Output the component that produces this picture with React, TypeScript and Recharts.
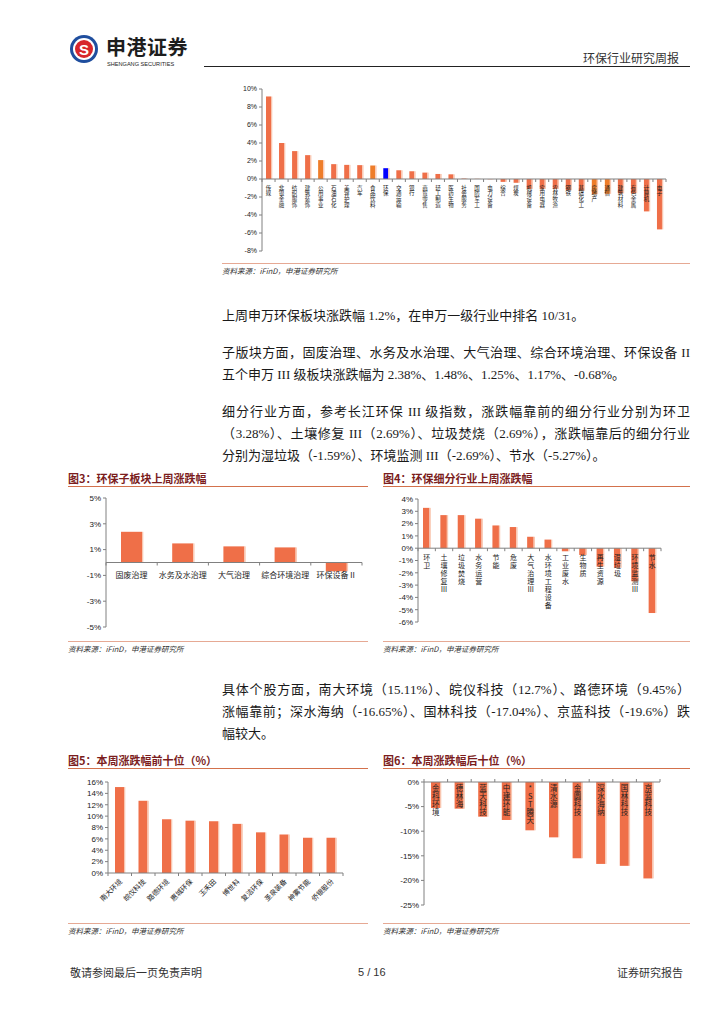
import React from "react";
import { Bar, BarChart, Cell, ReferenceLine, XAxis, YAxis } from "recharts";

// 申万一级行业上周涨跌幅（%）
const INDUSTRIES = [
  "传媒", "非银金融", "纺织服饰", "建筑装饰", "公用事业", "石油石化", "美容护理", "汽车",
  "食品饮料", "环保", "交通运输", "银行", "商贸零售", "轻工制造", "医药生物", "社会服务",
  "国防军工", "电力设备", "综合", "煤炭", "机械设备", "家用电器", "农林牧渔", "钢铁",
  "基础化工", "房地产", "通信", "建筑材料", "有色金属", "计算机", "电子",
];
const INDUSTRY_CHG = [
  9.17, 4.0, 3.1, 2.65, 2.1, 1.65, 1.57, 1.54, 1.5, 1.2, 0.97, 0.86, 0.71, 0.56, 0.52, 0.05,
  0.02, -0.03, -0.32, -0.42, -1.1, -1.1, -1.1, -1.25, -1.3, -1.7, -1.65, -1.6, -1.6, -3.6, -5.6,
];
const INDUSTRY_TICKS = [10, 8, 6, 4, 2, 0, -2, -4, -6, -8];
const ORANGE_SET = ["公用事业", "食品饮料", "房地产", "通信"];
const BLUE_SET = ["环保"];

// 图3 环保子板块
const SUB_SECTORS = ["固废治理", "水务及水治理", "大气治理", "综合环境治理", "环保设备Ⅱ"];
const SUB_SECTOR_CHG = [2.38, 1.48, 1.25, 1.17, -0.68];
const SUB_TICKS = [5, 3, 1, -1, -3, -5];

// 图4 环保细分行业
const SEGMENTS = [
  "环卫", "土壤修复Ⅲ", "垃圾焚烧", "水务运营", "节能", "危废", "大气治理Ⅲ",
  "水环境工程设备", "工业废水", "生物质", "再生资源", "湿垃圾", "环境监测Ⅲ", "节水",
];
const SEGMENT_CHG = [3.28, 2.69, 2.69, 2.4, 1.85, 1.72, 0.93, 0.7, -0.25, -0.55, -1.5, -1.59, -2.69, -5.27];
const SEGMENT_TICKS = [4, 3, 2, 1, 0, -1, -2, -3, -4, -5, -6];

// 图5 本周涨幅前十
const TOP_STOCKS = ["南大环境", "皖仪科技", "路德环境", "惠城环保", "玉禾田", "博世科", "复洁环保", "圣泉装备", "神雾节能", "侨银股份"];
const TOP_CHG = [15.11, 12.7, 9.45, 9.2, 9.1, 8.64, 7.15, 6.77, 6.2, 6.2];
const TOP_TICKS = [0, 2, 4, 6, 8, 10, 12, 14, 16];

// 图6 本周跌幅后十
const BOTTOM_STOCKS = ["金科环境", "德林海", "蓝天科技", "中建环能", "*ST腾天", "清水源", "金圆科技", "深水海纳", "国林科技", "京蓝科技"];
const BOTTOM_CHG = [-5.28, -5.42, -7.05, -7.72, -9.82, -11.25, -15.5, -16.65, -17.04, -19.6];
const BOTTOM_TICKS = [0, -5, -10, -15, -20, -25];

const AXIS = "#808080";
const BAR = "#EF6F48";
const BAR_ORANGE = "#EE7D2A";
const BAR_BLUE = "#0000FF";
const EDGE = "#F9C6B0";
const TITLE = "#7B1D1D";
const TITLE_LINE = "#D3714C";
const SRC_LINE = "#E6A994";
const CJK = '"Noto Sans CJK SC", sans-serif';
const NUM = '"Liberation Sans", Arial, sans-serif';
const BODY = '"Liberation Serif", "Noto Sans CJK SC", serif';

const pct = (v: number) => `${v}%`;

function ShadeBar(p: any) {
  const { x, y, width, height, fill } = p;
  if (x == null || y == null) return null;
  const top = Math.min(y, y + height);
  const h = Math.abs(height);
  return (
    <g>
      <rect x={x} y={top} width={width} height={h} fill={fill} />
      <rect x={x + width} y={top} width={1.3} height={h} fill={EDGE} />
    </g>
  );
}

// 纵排类目标签，逐字从零轴处向下排
function vertTick(zeroY: number, band: number, n: number, fs: number, step: number, gap: number, markDir: number) {
  return function Tick(props: any) {
    const { x, payload, index } = props;
    const chars = Array.from(String(payload.value));
    const bx = x - band / 2;
    return (
      <g>
        <line x1={bx} x2={bx} y1={zeroY} y2={zeroY + 3 * markDir} stroke={AXIS} />
        {index === n - 1 && (
          <line x1={bx + band} x2={bx + band} y1={zeroY} y2={zeroY + 3 * markDir} stroke={AXIS} />
        )}
        {chars.map((c, i) => (
          <text key={i} x={x} y={zeroY + gap + (i + 1) * step} textAnchor="middle" fontSize={fs} fontFamily={CJK} fill="#222">
            {c}
          </text>
        ))}
      </g>
    );
  };
}

function horizTick(zeroY: number, band: number, n: number) {
  return function Tick(props: any) {
    const { x, payload, index } = props;
    const bx = x - band / 2;
    return (
      <g>
        <line x1={bx} x2={bx} y1={zeroY} y2={zeroY + 3} stroke={AXIS} />
        {index === n - 1 && <line x1={bx + band} x2={bx + band} y1={zeroY} y2={zeroY + 3} stroke={AXIS} />}
        <text x={x} y={zeroY + 15} textAnchor="middle" fontSize={8} fontFamily={CJK} fill="#222">
          {payload.value}
        </text>
      </g>
    );
  };
}

function slantTick(baseY: number, band: number, n: number) {
  return function Tick(props: any) {
    const { x, payload, index } = props;
    const bx = x - band / 2;
    const ax = x + 3;
    const ay = baseY + 9;
    return (
      <g>
        <line x1={bx} x2={bx} y1={baseY} y2={baseY + 3} stroke={AXIS} />
        {index === n - 1 && <line x1={bx + band} x2={bx + band} y1={baseY} y2={baseY + 3} stroke={AXIS} />}
        <text x={ax} y={ay} textAnchor="end" fontSize={7} fontFamily={CJK} fill="#222" transform={`rotate(-45 ${ax} ${ay})`}>
          {payload.value}
        </text>
      </g>
    );
  };
}

const yTick = (fs: number) => ({ fontSize: fs, fill: "#222", fontFamily: NUM });

function Abs({ x, y, children, style }: any) {
  return <div style={{ position: "absolute", left: x, top: y, ...style }}>{children}</div>;
}

function FigTitle({ x, y, w, text }: { x: number; y: number; w: number; text: string }) {
  return (
    <>
      <Abs x={x} y={y} style={{ fontSize: 11, fontWeight: 700, color: TITLE, lineHeight: "14px", whiteSpace: "nowrap", fontFamily: CJK }}>
        {text}
      </Abs>
      <Abs x={x} y={y + 15} style={{ width: w, height: 1, background: TITLE_LINE }} />
    </>
  );
}

function Source({ x, y, w }: { x: number; y: number; w: number }) {
  return (
    <>
      <Abs x={x} y={y} style={{ width: w, height: 1, background: SRC_LINE }} />
      <Abs x={x} y={y + 2} style={{ fontSize: 7.5, fontStyle: "italic", color: "#333", whiteSpace: "nowrap", lineHeight: "11px", fontFamily: CJK }}>
        资料来源：iFinD，申港证券研究所
      </Abs>
    </>
  );
}

function Line({ y, text, full }: { y: number; text: string; full?: boolean }) {
  return (
    <Abs
      x={222}
      y={y - 11}
      style={{
        width: 468,
        fontSize: 13,
        lineHeight: "22px",
        whiteSpace: "nowrap",
        color: "#1a1a1a",
        fontFamily: BODY,
        textAlign: full ? "justify" : "left",
        textAlignLast: full ? "justify" : "left",
      }}
    >
      {text}
    </Abs>
  );
}

function IndustryChart() {
  const W = 468, H = 178, m = { top: 7, right: 24, bottom: 8, left: 0 }, yW = 40, xH = 1;
  const plotH = H - m.top - m.bottom - xH;
  const plotW = W - yW - m.left - m.right;
  const zeroY = m.top + (plotH * 10) / 18;
  const data = INDUSTRIES.map((name, i) => ({ name, v: INDUSTRY_CHG[i] }));
  return (
    <BarChart width={W} height={H} data={data} margin={m} barSize={5}>
      <XAxis dataKey="name" height={xH} axisLine={false} tickLine={false} interval={0}
        tick={vertTick(zeroY, plotW / INDUSTRIES.length, INDUSTRIES.length, 5.5, 5.7, 5, 1)} />
      <YAxis width={yW} domain={[-8, 10]} ticks={INDUSTRY_TICKS} interval={0} tickFormatter={pct}
        tick={yTick(7)} tickSize={3} axisLine={{ stroke: AXIS }} tickLine={{ stroke: AXIS }} />
      <ReferenceLine y={0} stroke={AXIS} />
      <Bar dataKey="v" isAnimationActive={false} shape={ShadeBar}>
        {data.map((d) => (
          <Cell key={d.name} fill={BLUE_SET.includes(d.name) ? BAR_BLUE : ORANGE_SET.includes(d.name) ? BAR_ORANGE : BAR} />
        ))}
      </Bar>
    </BarChart>
  );
}

function SubSectorChart() {
  const W = 308, H = 145, m = { top: 8, right: 6, bottom: 7, left: 0 }, yW = 46, xH = 1;
  const plotH = H - m.top - m.bottom - xH;
  const plotW = W - yW - m.right;
  const zeroY = m.top + plotH / 2;
  const data = SUB_SECTORS.map((name, i) => ({ name, v: SUB_SECTOR_CHG[i] }));
  return (
    <BarChart width={W} height={H} data={data} margin={m} barSize={21}>
      <XAxis dataKey="name" height={xH} axisLine={false} tickLine={false} interval={0}
        tick={horizTick(zeroY, plotW / SUB_SECTORS.length, SUB_SECTORS.length)} />
      <YAxis width={yW} domain={[-5, 5]} ticks={SUB_TICKS} interval={0} tickFormatter={pct}
        tick={yTick(8)} tickSize={3} axisLine={{ stroke: AXIS }} tickLine={{ stroke: AXIS }} />
      <ReferenceLine y={0} stroke={AXIS} />
      <Bar dataKey="v" fill={BAR} isAnimationActive={false} shape={ShadeBar} />
    </BarChart>
  );
}

function SegmentChart() {
  const W = 320, H = 140, m = { top: 9, right: 34, bottom: 7, left: 0 }, yW = 43, xH = 1;
  const plotH = H - m.top - m.bottom - xH;
  const plotW = W - yW - m.right;
  const zeroY = m.top + plotH * 0.4;
  const data = SEGMENTS.map((name, i) => ({ name, v: SEGMENT_CHG[i] }));
  return (
    <BarChart width={W} height={H} data={data} margin={m} barSize={6.5}>
      <XAxis dataKey="name" height={xH} axisLine={false} tickLine={false} interval={0}
        tick={vertTick(zeroY, plotW / SEGMENTS.length, SEGMENTS.length, 7, 8, 3.5, 1)} />
      <YAxis width={yW} domain={[-6, 4]} ticks={SEGMENT_TICKS} interval={0} tickFormatter={pct}
        tick={yTick(8)} tickSize={3} axisLine={{ stroke: AXIS }} tickLine={{ stroke: AXIS }} />
      <ReferenceLine y={0} stroke={AXIS} />
      <Bar dataKey="v" fill={BAR} isAnimationActive={false} shape={ShadeBar} />
    </BarChart>
  );
}

function TopChart() {
  const W = 308, H = 140, m = { top: 10, right: 25, bottom: 0, left: 0 }, yW = 48, xH = 39;
  const plotW = W - yW - m.right;
  const baseY = H - xH;
  const data = TOP_STOCKS.map((name, i) => ({ name, v: TOP_CHG[i] }));
  return (
    <BarChart width={W} height={H} data={data} margin={m} barSize={9}>
      <XAxis dataKey="name" height={xH} axisLine={{ stroke: AXIS }} tickLine={false} interval={0}
        tick={slantTick(baseY, plotW / TOP_STOCKS.length, TOP_STOCKS.length)} />
      <YAxis width={yW} domain={[0, 16]} ticks={TOP_TICKS} interval={0} tickFormatter={pct}
        tick={yTick(8)} tickSize={3} axisLine={{ stroke: AXIS }} tickLine={{ stroke: AXIS }} />
      <Bar dataKey="v" fill={BAR} isAnimationActive={false} shape={ShadeBar} />
    </BarChart>
  );
}

function BottomChart() {
  const W = 320, H = 141, m = { top: 9, right: 35, bottom: 8, left: 0 }, yW = 49, xH = 1;
  const plotW = W - yW - m.right;
  const zeroY = m.top + xH;
  const data = BOTTOM_STOCKS.map((name, i) => ({ name, v: BOTTOM_CHG[i] }));
  return (
    <BarChart width={W} height={H} data={data} margin={m} barSize={9}>
      <XAxis dataKey="name" orientation="top" height={xH} axisLine={false} tickLine={false} interval={0}
        tick={vertTick(zeroY, plotW / BOTTOM_STOCKS.length, BOTTOM_STOCKS.length, 7.5, 8, 1, -1)} />
      <YAxis width={yW} domain={[-25, 0]} ticks={BOTTOM_TICKS} interval={0} tickFormatter={pct}
        tick={yTick(8)} tickSize={3} axisLine={{ stroke: AXIS }} tickLine={{ stroke: AXIS }} />
      <Bar dataKey="v" fill={BAR} isAnimationActive={false} shape={ShadeBar} />
      <ReferenceLine y={0} stroke={AXIS} />
    </BarChart>
  );
}

function Logo() {
  return (
    <svg width={30} height={30} viewBox="0 0 30 30">
      <circle cx={15} cy={15} r={14} fill="#1F4E9E" />
      <circle cx={15} cy={15} r={11} fill="#fff" />
      <circle cx={15} cy={15} r={9} fill="#D7262B" />
      <text x={15} y={20.5} textAnchor="middle" fontSize={15} fontWeight={700} fill="#fff" fontFamily={NUM}>S</text>
    </svg>
  );
}

export default function App() {
  return (
    <div style={{ position: "absolute", left: 0, top: 0, width: 724, height: 1024, background: "#fff", overflow: "hidden", fontFamily: CJK }}>
      {/* 页眉 */}
      <Abs x={69} y={34}><Logo /></Abs>
      <Abs x={106} y={34} style={{ fontSize: 20, fontWeight: 700, color: "#1d1d1d", lineHeight: "26px", letterSpacing: 0.5, whiteSpace: "nowrap" }}>
        申港证券
      </Abs>
      <Abs x={107} y={61} style={{ fontSize: 5.6, color: "#222", fontFamily: NUM, whiteSpace: "nowrap", lineHeight: "7px" }}>
        SHENGANG SECURITIES
      </Abs>
      <Abs x={204} y={66} style={{ width: 486, height: 1, background: "#222" }} />
      <Abs x={583} y={50} style={{ fontSize: 12, color: "#333", whiteSpace: "nowrap", lineHeight: "16px" }}>环保行业研究周报</Abs>

      {/* 申万一级行业 */}
      <Abs x={222} y={82}><IndustryChart /></Abs>
      <Source x={222} y={263} w={468} />

      <Line y={316} text="上周申万环保板块涨跌幅 1.2%，在申万一级行业中排名 10/31。" />
      <Line y={353} full text="子版块方面，固废治理、水务及水治理、大气治理、综合环境治理、环保设备 II" />
      <Line y={375} text="五个申万 III 级板块涨跌幅为 2.38%、1.48%、1.25%、1.17%、-0.68%。" />
      <Line y={412} full text="细分行业方面，参考长江环保 III 级指数，涨跌幅靠前的细分行业分别为环卫" />
      <Line y={434} full text="（3.28%）、土壤修复 III（2.69%）、垃圾焚烧（2.69%），涨跌幅靠后的细分行业" />
      <Line y={456} text="分别为湿垃圾（-1.59%）、环境监测 III（-2.69%）、节水（-5.27%）。" />

      <FigTitle x={68} y={471} w={300} text="图3：环保子板块上周涨跌幅" />
      <Abs x={60} y={490}><SubSectorChart /></Abs>
      <Source x={68} y={641} w={300} />

      <FigTitle x={383} y={471} w={307} text="图4：环保细分行业上周涨跌幅" />
      <Abs x={375} y={490}><SegmentChart /></Abs>
      <Source x={383} y={641} w={307} />

      <Line y={690} full text="具体个股方面，南大环境（15.11%）、皖仪科技（12.7%）、路德环境（9.45%）" />
      <Line y={712} full text="涨幅靠前；深水海纳（-16.65%）、国林科技（-17.04%）、京蓝科技（-19.6%）跌" />
      <Line y={734} text="幅较大。" />

      <FigTitle x={68} y={753} w={300} text="图5：本周涨跌幅前十位（%）" />
      <Abs x={60} y={772}><TopChart /></Abs>
      <Source x={68} y={923} w={300} />

      <FigTitle x={383} y={753} w={307} text="图6：本周涨跌幅后十位（%）" />
      <Abs x={375} y={772}><BottomChart /></Abs>
      <Source x={383} y={923} w={307} />

      {/* 页脚 */}
      <Abs x={70} y={965} style={{ fontSize: 11, color: "#333", whiteSpace: "nowrap", lineHeight: "14px" }}>敬请参阅最后一页免责声明</Abs>
      <Abs x={358} y={965} style={{ fontSize: 11, color: "#333", whiteSpace: "nowrap", lineHeight: "14px", fontFamily: NUM }}>5 / 16</Abs>
      <Abs x={617} y={965} style={{ fontSize: 11, color: "#333", whiteSpace: "nowrap", lineHeight: "14px" }}>证券研究报告</Abs>
    </div>
  );
}
